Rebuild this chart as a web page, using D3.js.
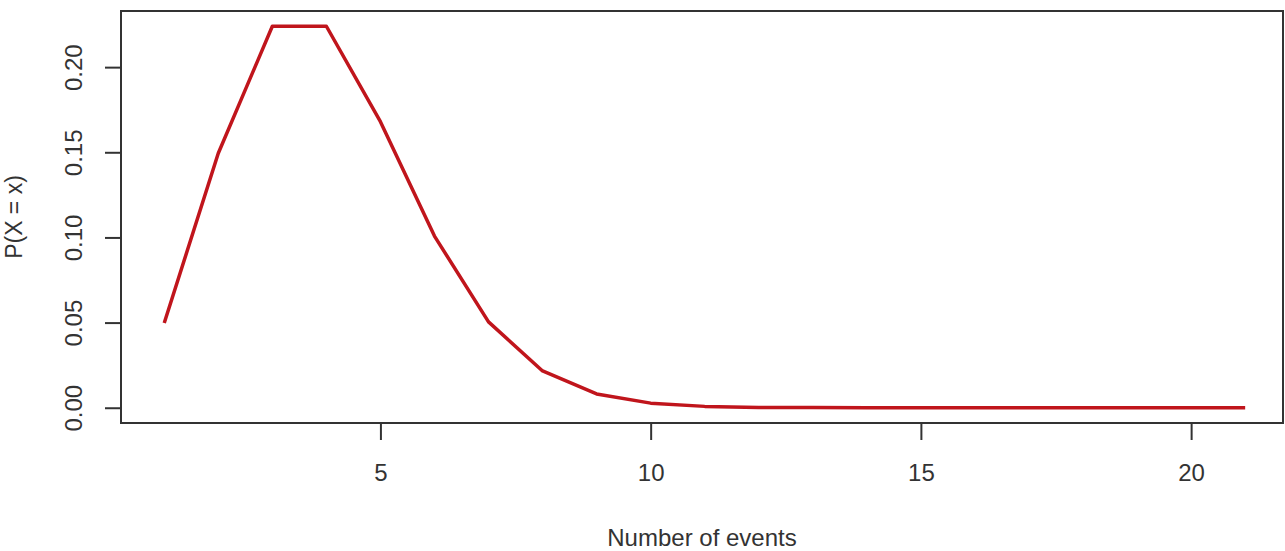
<!DOCTYPE html>
<html>
<head>
<meta charset="utf-8">
<script src="https://cdn.jsdelivr.net/npm/d3@7"></script>
<style>
  body { margin: 0; background: #fff; }
  text { font-family: "Liberation Sans", Arial, sans-serif; fill: #333; }
</style>
</head>
<body>
<div class="plot"></div>
<script>
const width = 1285;
const height = 551;

// number of events (index) and probability
const events = [1, 2, 3, 4, 5, 6, 7, 8, 9, 10, 11, 12, 13, 14, 15, 16, 17, 18, 19, 20, 21];
const probs = [0.0498, 0.1494, 0.2240, 0.2240, 0.1680, 0.1008, 0.0504, 0.0216, 0.0081, 0.0027,
               0.0008, 0.0002, 0.0001, 0, 0, 0, 0, 0, 0, 0, 0];
const xTicks = [5, 10, 15, 20];
const yTicks = [0, 0.05, 0.10, 0.15, 0.20];

const points = events.map((e, i) => ({x: e, y: probs[i]}));

const svg = d3.select('.plot')
    .append('svg')
    .attr('width', width)
    .attr('height', height)

const x = d3.scaleLinear().domain([0.2, 21.7]).range([121, 1283]);
const y = d3.scaleLinear().domain([-0.00896, 0.23296]).range([423, 11]);

// box
svg.append('rect')
    .attr('x', x(0.2))
    .attr('y', y(0.23296))
    .attr('width', x(21.7) - x(0.2))
    .attr('height', y(-0.00896) - y(0.23296))
    .attr('fill', 'none')
    .attr('stroke', '#333')
    .attr('stroke-width', 2)

const xAxis = svg.append('g')
    .attr('transform', `translate(0,${y(-0.00896)})`)
    .call(d3.axisBottom(x).tickValues(xTicks).tickSize(17).tickPadding(24).tickFormat(d3.format('d')))
xAxis.select('.domain').remove()
xAxis.selectAll('line').attr('stroke', '#333').attr('stroke-width', 2)
xAxis.selectAll('text').attr('font-size', 24).attr('font-family', '"Liberation Sans", Arial, sans-serif').attr('fill', '#333')

const yAxis = svg.append('g')
    .attr('transform', `translate(${x(0.2)},0)`)
    .call(d3.axisLeft(y).tickValues(yTicks).tickSize(16).tickFormat(d3.format('.2f')))
yAxis.select('.domain').remove()
yAxis.selectAll('line').attr('stroke', '#333').attr('stroke-width', 2)
yAxis.selectAll('text')
    .attr('font-size', 24)
    .attr('font-family', '"Liberation Sans", Arial, sans-serif')
    .attr('fill', '#333')
    .attr('text-anchor', 'middle')
    .attr('x', 0)
    .attr('dy', 0)
    .attr('transform', 'translate(-39,0) rotate(-90)')

// line
svg.append('path')
    .datum(points)
    .attr('fill', 'none')
    .attr('stroke', '#c0151c')
    .attr('stroke-width', 3.5)
    .attr('stroke-linejoin', 'round')
    .attr('d', d3.line().x(d => x(d.x)).y(d => y(d.y)))

// titles
svg.append('text')
    .attr('x', (x(0.2) + x(21.7)) / 2)
    .attr('y', 546)
    .attr('text-anchor', 'middle')
    .attr('font-size', 24)
    .text('Number of events')

svg.append('text')
    .attr('transform', `translate(22,${(y(-0.00896) + y(0.23296)) / 2}) rotate(-90)`)
    .attr('text-anchor', 'middle')
    .attr('font-size', 23)
    .text('P(X = x)')
</script>
</body>
</html>
